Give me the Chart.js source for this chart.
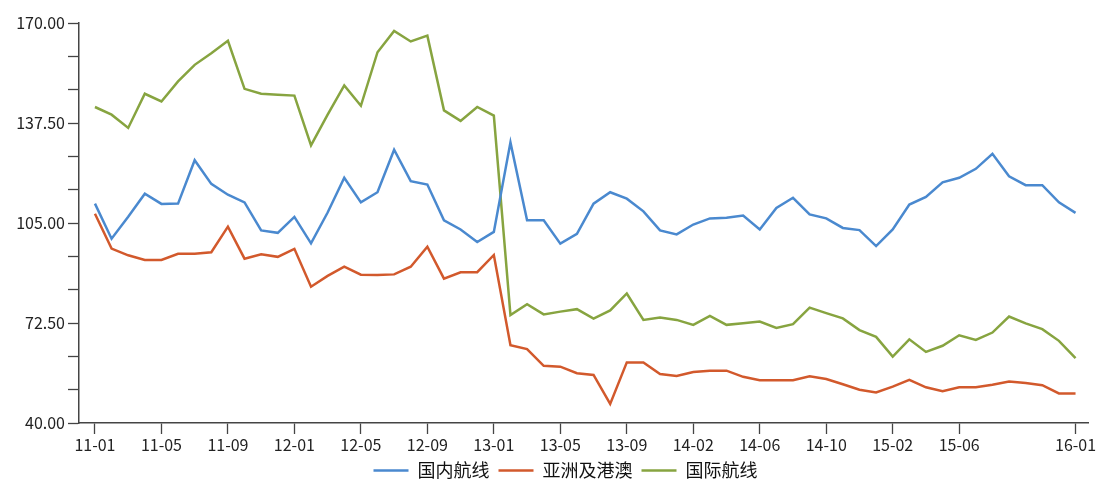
<!DOCTYPE html>
<html>
<head>
<meta charset="utf-8">
<script src="https://cdn.jsdelivr.net/npm/chart.js@4.4.0/dist/chart.umd.min.js"></script>
<style>
  html, body { margin: 0; padding: 0; background: #ffffff; }
  #c { display: block; }
</style>
</head>
<body>
<canvas id="c" width="1096" height="481"></canvas>
<script>
const categories = [
  '11-01','11-02','11-03','11-04','11-05','11-06','11-07','11-08','11-09','11-10','11-11','11-12',
  '12-01','12-02','12-03','12-04','12-05','12-06','12-07','12-08','12-09','12-10','12-11','12-12',
  '13-01','13-02','13-03','13-04','13-05','13-06','13-07','13-08','13-09','13-10','13-11','13-12',
  '14-02','14-03','14-04','14-05','14-06','14-07','14-08','14-09','14-10','14-11','14-12',
  '15-01','15-02','15-03','15-04','15-05','15-06','15-07','15-08','15-09','15-10','15-11','15-12',
  '16-01'
];

const domestic = [
  111.3, 99.9, 107.0, 114.5, 111.2, 111.3, 125.4, 117.7, 114.2, 111.7, 102.6, 101.8,
  107.0, 98.4, 108.4, 119.7, 111.7, 115.0, 128.8, 118.6, 117.5, 105.9, 102.9, 98.8,
  102.1, 131.2, 105.9, 105.9, 98.3, 101.5, 111.3, 115.0, 112.9, 108.8, 102.6, 101.3,
  104.5, 106.5, 106.7, 107.4, 102.9, 109.9, 113.2, 107.8, 106.5, 103.4, 102.7,
  97.5, 102.9, 111.0, 113.5, 118.2, 119.7, 122.6, 127.5, 120.2, 117.3, 117.3, 111.7,
  108.3
];

const asiaHkMacau = [
  108.0, 96.7, 94.5, 93.0, 93.0, 95.0, 95.0, 95.5, 103.8, 93.4, 94.8, 94.0,
  96.6, 84.3, 87.8, 90.8, 88.2, 88.1, 88.3, 90.8, 97.3, 86.9, 89.0, 89.0,
  94.6, 65.3, 64.0, 58.6, 58.3, 56.2, 55.6, 46.2, 59.7, 59.7, 55.9, 55.3,
  56.6, 57.0, 57.0, 55.0, 53.9, 53.9, 53.9, 55.2, 54.3, 52.6, 50.8,
  49.9, 51.8, 54.0, 51.6, 50.3, 51.6, 51.6, 52.4, 53.5, 53.0, 52.3, 49.6,
  49.6
];

const international = [
  142.7, 140.2, 135.9, 147.0, 144.5, 151.0, 156.4, 160.2, 164.2, 148.6, 147.0, 146.7,
  146.4, 130.2, 140.2, 149.7, 143.1, 160.5, 167.4, 164.0, 165.9, 141.6, 138.2, 142.7,
  139.9, 75.1, 78.6, 75.3, 76.2, 77.0, 73.9, 76.6, 82.1, 73.5, 74.3, 73.5,
  71.9, 74.8, 71.9, 72.4, 73.0, 70.9, 72.1, 77.5, 75.7, 74.0, 70.2,
  68.0, 61.6, 67.2, 63.1, 65.1, 68.5, 67.0, 69.4, 74.6, 72.4, 70.5, 66.7,
  61.1
];

const seriesNames = ['国内航线', '亚洲及港澳', '国际航线'];
const xTickIndices = [0, 4, 8, 12, 16, 20, 24, 28, 32, 36, 40, 44, 48, 52, 59];
const yMajorTicks = [40, 72.5, 105, 137.5, 170];

const FONT = '"Noto Sans CJK SC", "Noto Sans", sans-serif';
const AXIS = '#444444';

function toPoints(arr) { return arr.map((v, i) => ({ x: i, y: v })); }

const yAllTicks = [];
for (let k = 0; k < yMajorTicks.length; k++) {
  yAllTicks.push(yMajorTicks[k]);
  if (k < yMajorTicks.length - 1) {
    const a = yMajorTicks[k], b = yMajorTicks[k + 1];
    yAllTicks.push(a + (b - a) / 3, a + 2 * (b - a) / 3);
  }
}

new Chart(document.getElementById('c'), {
  type: 'line',
  data: {
    datasets: [
      { label: seriesNames[0], data: toPoints(domestic), borderColor: '#4a89cf', backgroundColor: '#4a89cf', borderWidth: 2.5 },
      { label: seriesNames[1], data: toPoints(asiaHkMacau), borderColor: '#d2592c', backgroundColor: '#d2592c', borderWidth: 2.5 },
      { label: seriesNames[2], data: toPoints(international), borderColor: '#87a440', backgroundColor: '#87a440', borderWidth: 2.5 }
    ]
  },
  options: {
    responsive: false,
    animation: false,
    events: [],
    elements: {
      line: { borderWidth: 2.5, tension: 0 },
      point: { radius: 0, hoverRadius: 0 }
    },
    layout: { padding: { left: 43, right: 8, top: 23, bottom: -8.5 } },
    plugins: {
      tooltip: { enabled: false },
      title: { display: false },
      legend: {
        position: 'bottom',
        align: 'center',
        labels: {
          usePointStyle: true,
          pointStyle: 'line',
          pointStyleWidth: 35,
          boxHeight: 18,
          padding: 9,
          color: '#111111',
          font: { family: FONT, size: 18 }
        }
      }
    },
    scales: {
      x: {
        type: 'linear',
        min: -0.96,
        max: 59.75,
        afterBuildTicks: (s) => { s.ticks = xTickIndices.map(v => ({ value: v })); },
        afterFit: (s) => { s.height = 29.5; s.paddingRight = 0; s.paddingLeft = 0; },
        ticks: {
          autoSkip: false,
          maxRotation: 0,
          minRotation: 0,
          padding: 1,
          color: '#222222',
          font: { family: FONT, size: 16 },
          callback: (v) => categories[v]
        },
        grid: { display: true, drawOnChartArea: false, drawTicks: true, tickLength: 11, tickColor: AXIS, tickWidth: 1.3 },
        border: { display: true, color: AXIS, width: 1.5 }
      },
      y: {
        type: 'linear',
        min: 40,
        max: 170,
        afterBuildTicks: (s) => { s.ticks = yAllTicks.map(v => ({ value: v })); },
        afterFit: (s) => { s.width = 36; s._computeLabelArea = () => undefined; },
        ticks: {
          padding: 3,
          color: '#222222',
          font: { family: FONT, size: 16 },
          callback: (v) => yMajorTicks.some(m => Math.abs(m - v) < 1e-6) ? v.toFixed(2) : ''
        },
        grid: { display: true, drawOnChartArea: false, drawTicks: true, tickLength: 11, tickColor: AXIS, tickWidth: 1.3 },
        border: { display: true, color: AXIS, width: 1.5 }
      }
    }
  }
});
</script>
</body>
</html>
